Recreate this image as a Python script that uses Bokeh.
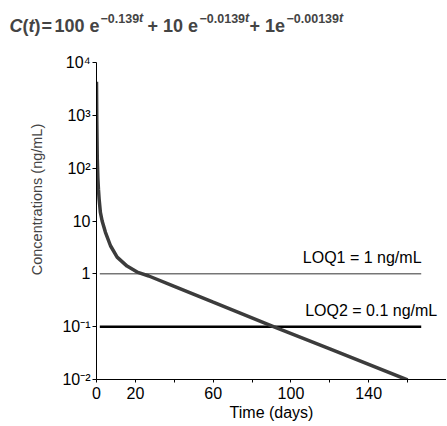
from math import pi

from bokeh.embed import file_html
from bokeh.layouts import column, row
from bokeh.models import FixedTicker, Label, Range1d
from bokeh.plotting import figure
from bokeh.resources import INLINE

FONT = "Liberation Sans"

# concentration curve
time_days = [0, 0.15, 0.4, 0.7, 1.0, 1.35, 2.0, 2.9, 4.6, 7.2, 10.6, 15.7,
             20.9, 26.9, 40, 60, 91, 120, 160]
conc = [4300, 800, 150, 65, 40, 26, 14.6, 10, 6.1, 3.4, 2.07, 1.4,
        1.08, 0.91, 0.58, 0.29, 0.1, 0.038, 0.0098]

# limits of quantification
loq_names = ["LOQ1 = 1 ng/mL", "LOQ2 = 0.1 ng/mL"]
loq_levels = [1, 0.1]
loq_t_start = [1.7, 1.7]
loq_t_end = [167, 167]
loq_label_t = [106.1, 107.3]

# axis ticks
x_ticks = [0, 20, 40, 60, 80, 100, 120, 140, 160, 180]
x_tick_labels = ["0", "20", "", "60", "", "100", "", "140", "", ""]
y_ticks = [1e-2, 1e-1, 1, 10, 1e2, 1e3, 1e4]
y_tick_labels = ["10\u207b\u00b2", "10\u207b\u00b9", "1", "10", "10\u00b2", "10\u00b3", "10\u2074"]

H = 376                # height of the plot row
TOP, BOTTOM = 13, 46   # borders above / below the plotting frame
SIDE_W = 50            # width of the strip holding the y axis title


def blank_fig(w, h, **kw):
    f = figure(width=w, height=h, output_backend="svg", toolbar_location=None,
               x_axis_location=None, y_axis_location=None, min_border=0, **kw)
    f.outline_line_color = None
    f.grid.visible = False
    return f


# ---- title strip: the equation, piece by piece (pixel positions) ----
head = blank_fig(446, 49, x_range=Range1d(0, 446), y_range=Range1d(0, 49))
title_parts = [
    ("C", 9, 23.7, "18px", "bold italic"),
    ("(", 22, 23.7, "18px", "bold"),
    ("t", 28, 23.7, "18px", "bold italic"),
    (")", 34, 23.7, "18px", "bold"),
    ("=", 41, 23.7, "18px", "bold"),
    ("100 e", 54, 23.7, "18px", "bold"),
    ("\u22120.139", 100, 31.2, "12.5px", "bold"),
    ("t", 138.6, 31.2, "12.5px", "bold italic"),
    ("+ 10 e", 147, 23.7, "18px", "bold"),
    ("\u22120.0139", 199, 31.2, "12.5px", "bold"),
    ("t", 244.5, 31.2, "12.5px", "bold italic"),
    ("+ 1e", 249, 23.7, "18px", "bold"),
    ("\u22120.00139", 286, 31.2, "12.5px", "bold"),
    ("t", 338.5, 31.2, "12.5px", "bold italic"),
]
for txt, x, y, size, style in title_parts:
    head.add_layout(Label(x=x, y=y, text=txt, text_font=FONT, text_font_size=size,
                          text_font_style=style, text_baseline="middle"))

# ---- left strip: y axis title (same frame borders as the plot) ----
side = blank_fig(SIDE_W, H, x_range=Range1d(0, SIDE_W), y_range=Range1d(1e-2, 1e4),
                 y_axis_type="log")
side.min_border_top = TOP
side.min_border_bottom = BOTTOM
side.add_layout(Label(x=36, y=1e4, y_offset=-137, text="Concentrations (ng/mL)",
                      angle=pi / 2, text_align="center", text_baseline="middle",
                      text_font=FONT, text_font_size="14.5px"))

# ---- main plot ----
p = figure(width=446 - SIDE_W, height=H, y_axis_type="log",
           x_range=Range1d(0, 180), y_range=Range1d(1e-2, 1e4),
           output_backend="svg", toolbar_location=None,
           min_border_left=96 - SIDE_W, min_border_right=0,
           min_border_top=TOP, min_border_bottom=BOTTOM)
p.outline_line_color = None
p.grid.visible = False

# LOQ lines
p.segment(x0=[loq_t_start[0]], y0=[loq_levels[0]], x1=[loq_t_end[0]], y1=[loq_levels[0]],
          line_color="#333333", line_width=1)
p.segment(x0=[loq_t_start[1]], y0=[loq_levels[1]], x1=[loq_t_end[1]], y1=[loq_levels[1]],
          line_color="black", line_width=2.5)

# curve
p.line(time_days, conc, line_color="#3c3c3c", line_width=3.5)

for name, lvl, t in zip(loq_names, loq_levels, loq_label_t):
    p.add_layout(Label(x=t, y=lvl, y_offset=16, text=name, text_font=FONT,
                       text_font_size="16px", text_color="black",
                       text_baseline="middle"))

# axes
for ax in (p.xaxis, p.yaxis):
    ax.axis_line_color = "black"
    ax.major_tick_line_color = "black"
    ax.minor_tick_line_color = None
    ax.major_tick_in = 0
    ax.major_label_text_font = FONT
    ax.major_label_text_font_size = "16px"
    ax.major_label_text_color = "black"

p.xaxis.ticker = FixedTicker(ticks=x_ticks)
p.xaxis.major_label_overrides = dict(zip(x_ticks, x_tick_labels))
p.xaxis.major_tick_out = 3
p.xaxis.major_label_standoff = 4
p.xaxis.axis_label = "Time (days)"
p.xaxis.axis_label_standoff = 2
p.xaxis.axis_label_text_font = FONT
p.xaxis.axis_label_text_font_size = "16px"
p.xaxis.axis_label_text_font_style = "normal"
p.xaxis.axis_label_text_color = "black"

p.yaxis.ticker = FixedTicker(ticks=y_ticks)
p.yaxis.major_label_overrides = dict(zip(y_ticks, y_tick_labels))
p.yaxis.major_tick_out = 4
p.yaxis.major_label_standoff = 2

layout = column(head, row(side, p))
open("out.html", "w").write(file_html(layout, INLINE))
